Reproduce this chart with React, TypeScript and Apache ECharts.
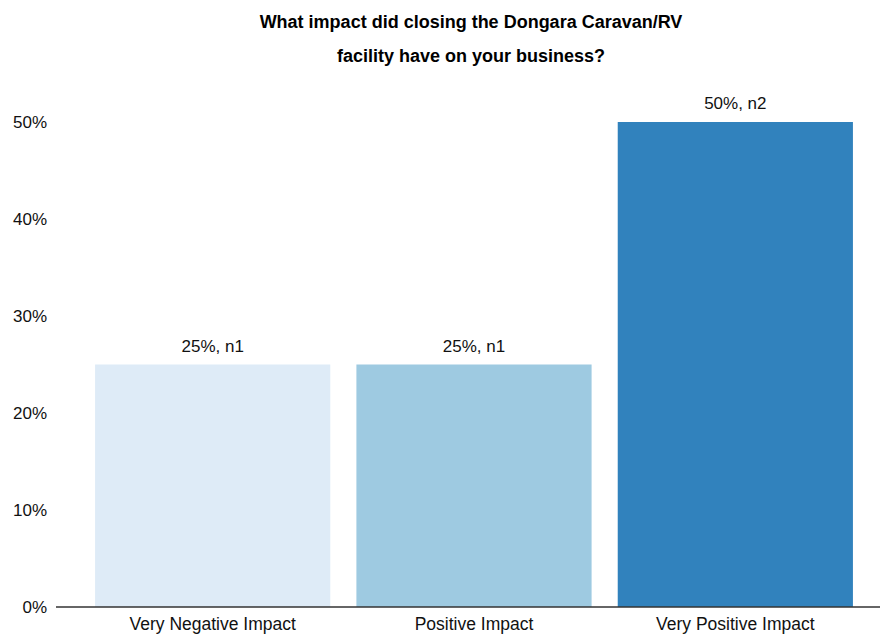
import React, { useEffect, useRef } from "react";
import * as echarts from "echarts";

const categories = ["Very Negative Impact", "Positive Impact", "Very Positive Impact"];
const values = [25, 25, 50];
const counts = [1, 1, 2];
const barColors = ["#deebf7", "#9ecae1", "#3182bd"];
const titleLines = ["What impact did closing the Dongara Caravan/RV", "facility have on your business?"];

export default function App() {
  const ref = useRef<HTMLDivElement>(null);
  useEffect(() => {
    const chart = echarts.init(ref.current!, null, { renderer: "svg" });
    const font = "Helvetica, 'Liberation Sans', Arial, sans-serif";
    chart.setOption({
      animation: false,
      textStyle: { fontFamily: font },
      title: {
        text: titleLines.join("\n"),
        left: 466,
        textAlign: "center",
        top: 0,
        textStyle: { fontSize: 18, fontWeight: "bold", color: "#000", lineHeight: 34, fontFamily: font },
      },
      grid: { left: 82, right: 14, top: 122, bottom: 29, containLabel: false },
      xAxis: {
        type: "category",
        data: categories,
        axisLine: { show: false },
        axisTick: { show: false },
        axisLabel: { fontSize: 17.5, color: "#111", margin: 8, fontFamily: font },
      },
      yAxis: {
        type: "value",
        min: 0,
        max: 50,
        interval: 10,
        axisLine: { show: false },
        axisTick: { show: false },
        splitLine: { show: false },
        axisLabel: { formatter: "{value}%", fontSize: 17, color: "#111", margin: 35, fontFamily: font },
      },
      graphic: [
        {
          type: "line",
          shape: { x1: 56, y1: 607, x2: 880, y2: 607 },
          style: { stroke: "#333", lineWidth: 1.5 },
          z: 10,
        },
      ],
      series: [
        {
          type: "bar",
          barCategoryGap: "10%",
          data: values.map((v, i) => ({ value: v, itemStyle: { color: barColors[i] } })),
          label: {
            show: true,
            position: "top",
            distance: 10,
            fontSize: 17,
            color: "#111",
            fontFamily: font,
            formatter: (p: any) => `${p.value}%, n${counts[p.dataIndex]}`,
          },
        },
      ],
    });
    return () => chart.dispose();
  }, []);
  return <div ref={ref} style={{ width: 880, height: 636, position: "absolute", left: 0, top: 0 }} />;
}
